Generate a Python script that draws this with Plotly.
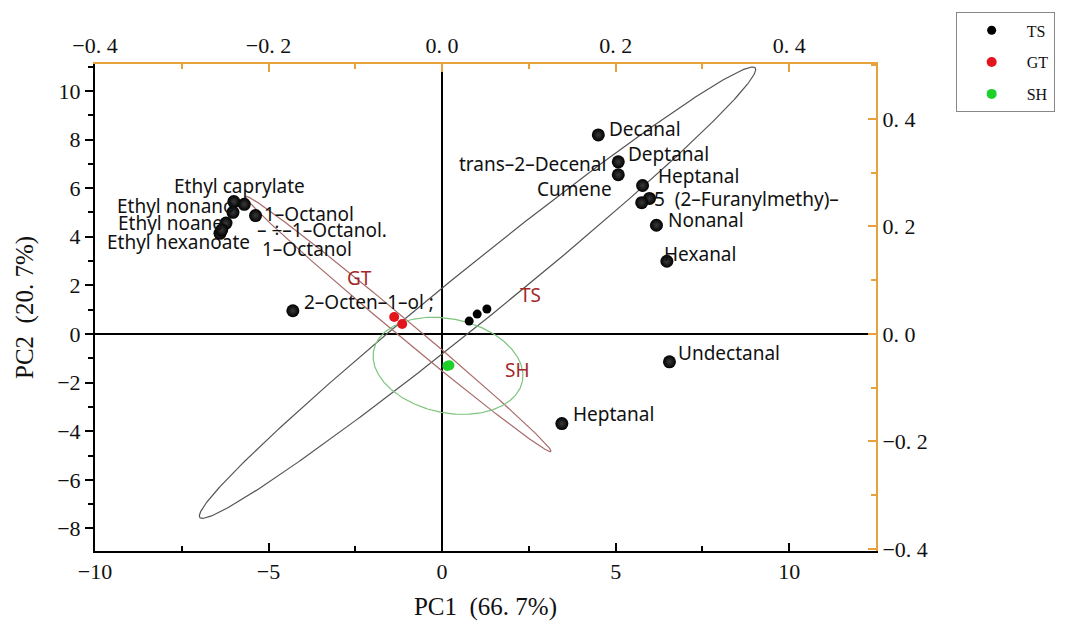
import numpy as np
import plotly.graph_objects as go

# ---------------- data ----------------
# sample scores (PC1, PC2) – primary axes
ts_pc1 = [0.78, 1.01, 1.29]
ts_pc2 = [0.53, 0.82, 1.03]
gt_pc1 = [-1.38, -1.15]
gt_pc2 = [0.70, 0.41]
sh_pc1 = [0.15, 0.21]
sh_pc2 = [-1.32, -1.29]

# variable loadings – secondary axes (top / right)
load_x = [0.180, 0.203, 0.203, 0.231, 0.239, 0.230, 0.247, 0.259, 0.262, 0.138,
          -0.172, -0.240, -0.228, -0.241, -0.215, -0.249, -0.256, -0.254]
load_y = [0.370, 0.320, 0.296, 0.276, 0.252, 0.244, 0.202, 0.135, -0.052, -0.167,
          0.043, 0.246, 0.241, 0.226, 0.220, 0.206, 0.187, 0.193]

# labels: text and the loading point they belong to
label_text = ["Decanal", "Deptanal", "trans–2–Decenal", "Cumene", "Heptanal",
              "5  (2–Furanylmethy)–", "Nonanal", "Hexanal", "Undectanal", "Heptanal",
              "2–Octen–1–ol ;", "Ethyl caprylate", "Ethyl nonano", "Ethyl noane",
              "Ethyl hexanoate", "1–Octanol", "– ÷–1–Octanol.", "1–Octanol"]
label_point = [0, 1, 1, 2, 3, 4, 6, 7, 8, 9, 10, 11, 13, 15, 16, 14, 14, 14]

# confidence ellipses: centre, semi-major vector, semi-minor vector (PC units)
ell_names = ["TS", "GT", "SH"]
ell_center = [(1.02, 1.70), (-1.26, 0.41), (0.17, -1.31)]
ell_major = [(8.00, 9.25), (4.40, -5.25), (2.14, -0.65)]
ell_minor = [(0.47, -0.83), (-0.155, -0.269), (-0.28, -1.89)]
ell_label_pos = [(2.56, 1.60), (-2.39, 2.30), (2.16, -1.48)]

# axis ticks and titles
x_ticks = [-10, -5, 0, 5, 10]
y_ticks = [-8, -6, -4, -2, 0, 2, 4, 6, 8, 10]
x2_ticks = [-0.4, -0.2, 0.0, 0.2, 0.4]
x2_text = ["−0. 4", "−0. 2", "0. 0", "0. 2", "0. 4"]
y2_ticks = [-0.4, -0.2, 0.0, 0.2, 0.4]
y2_text = ["−0. 4", "−0. 2", "0. 0", "0. 2", "0. 4"]
x_title = "PC1\u00a0\u00a0(66.\u00a07%)"
y_title = "PC2\u00a0\u00a0(20.\u00a07%)"

# ---------------- styles ----------------
label_style = [  # (xanchor, xshift, yshift)
    ("left", 9, 6), ("left", 8, 8), ("right", -10, -2), ("right", -4, -14),
    ("left", 13, 9), ("left", 2, -1), ("left", 10, 5), ("left", -5, 7),
    ("left", 7, 9), ("left", 9, 10), ("left", 9, 9), ("center", 6, 16),
    ("right", 4, 6), ("right", -1, 0), ("center", -41, -9), ("left", 6, 2),
    ("left", -1, -14), ("left", 4, -33),
]
ell_colors = ["#555555", "#a86a6a", "#7cc47c"]
ORANGE = "#e8a23c"
SERIF = "Liberation Serif, Times New Roman, serif"
SANS = "Noto Sans, DejaVu Sans, sans-serif"

fig = go.Figure()

# ellipses
t = np.linspace(0, 2 * np.pi, 400)
for name, c, a, b, col in zip(ell_names, ell_center, ell_major, ell_minor, ell_colors):
    ex = c[0] + a[0] * np.cos(t) + b[0] * np.sin(t)
    ey = c[1] + a[1] * np.cos(t) + b[1] * np.sin(t)
    fig.add_trace(go.Scatter(x=ex, y=ey, mode="lines", line=dict(color=col, width=1.2),
                             showlegend=False, hoverinfo="skip"))

# loadings (big glossy black balls)
fig.add_trace(go.Scatter(x=load_x, y=load_y, xaxis="x2", yaxis="y2", mode="markers",
                         marker=dict(size=13, color="#000000",
                                     gradient=dict(type="radial", color="#3a3a3a"),
                                     line=dict(width=0)),
                         showlegend=False))

# scores
fig.add_trace(go.Scatter(x=ts_pc1, y=ts_pc2, mode="markers", name="TS", legendgroup="a",
                         marker=dict(size=9, color="#000000")))
fig.add_trace(go.Scatter(x=gt_pc1, y=gt_pc2, mode="markers", name="GT", legendgroup="b",
                         marker=dict(size=10, color="#e3141c")))
fig.add_trace(go.Scatter(x=sh_pc1, y=sh_pc2, mode="markers", name="SH", legendgroup="c",
                         marker=dict(size=10, color="#1ed12a")))

annotations = []
for txt, idx, (xa, xs, ys) in zip(label_text, label_point, label_style):
    annotations.append(dict(x=load_x[idx], y=load_y[idx], xref="x2", yref="y2",
                            text=txt, showarrow=False, xanchor=xa, yanchor="middle",
                            xshift=xs, yshift=ys,
                            font=dict(family=SANS, size=19, color="#111111")))
for name, (lx, ly) in zip(ell_names, ell_label_pos):
    annotations.append(dict(x=lx, y=ly, xref="x", yref="y", text=name, showarrow=False,
                            xanchor="center", yanchor="middle",
                            font=dict(family=SANS, size=19, color="#a3282a")))

tickfont = dict(family=SERIF, size=22, color="#111111")
titlefont = dict(family=SERIF, size=25, color="#111")
fig.update_layout(
    width=1067, height=625,
    margin=dict(l=95, r=190, t=62, b=74),
    paper_bgcolor="white", plot_bgcolor="white",
    annotations=annotations,
    xaxis=dict(range=[-10, 12.5], tickvals=x_ticks, ticks="inside", ticklen=8,
               tickwidth=1.5, tickcolor="#000", showline=True, linecolor="#000",
               linewidth=2, showgrid=False, zeroline=True, zerolinecolor="#000",
               zerolinewidth=2, tickfont=tickfont, automargin=False,
               minor=dict(dtick=2.5, ticks="inside", ticklen=5, tickcolor="#000"),
               title=dict(text=x_title, font=titlefont, standoff=14)),
    yaxis=dict(range=[-8.93, 11.11], tickvals=y_ticks, ticks="outside", ticklen=8,
               tickwidth=1.5, tickcolor="#000", showline=True, linecolor="#000",
               linewidth=2, showgrid=False, zeroline=True, zerolinecolor="#000",
               zerolinewidth=2, tickfont=tickfont, automargin=False,
               minor=dict(dtick=1, ticks="outside", ticklen=5, tickcolor="#000"),
               title=dict(text=y_title, font=titlefont, standoff=16)),
    xaxis2=dict(overlaying="x", side="top", range=[-0.4, 0.5], tickvals=x2_ticks,
                ticktext=x2_text, ticks="inside", ticklen=8, tickwidth=1.5,
                tickcolor=ORANGE, showline=True, linecolor=ORANGE, linewidth=2,
                showgrid=False, zeroline=False, tickfont=tickfont, automargin=False,
                minor=dict(dtick=0.1, ticks="inside", ticklen=5, tickcolor=ORANGE)),
    yaxis2=dict(overlaying="y", side="right", range=[-0.404, 0.502], tickvals=y2_ticks,
                ticktext=y2_text, ticks="inside", ticklen=8, tickwidth=1.5,
                tickcolor=ORANGE, showline=True, linecolor=ORANGE, linewidth=2,
                showgrid=False, zeroline=False, tickfont=tickfont, automargin=False,
                minor=dict(dtick=0.1, ticks="inside", ticklen=5, tickcolor=ORANGE)),
    legend=dict(x=1.102, y=1.106, xanchor="left", yanchor="top",
                bordercolor="#888888", borderwidth=1, bgcolor="white",
                font=dict(family=SERIF, size=16, color="#111"),
                tracegroupgap=8, itemwidth=60, entrywidth=110, entrywidthmode="pixels"),
    showlegend=True,
)

fig.write_html("out.html")
